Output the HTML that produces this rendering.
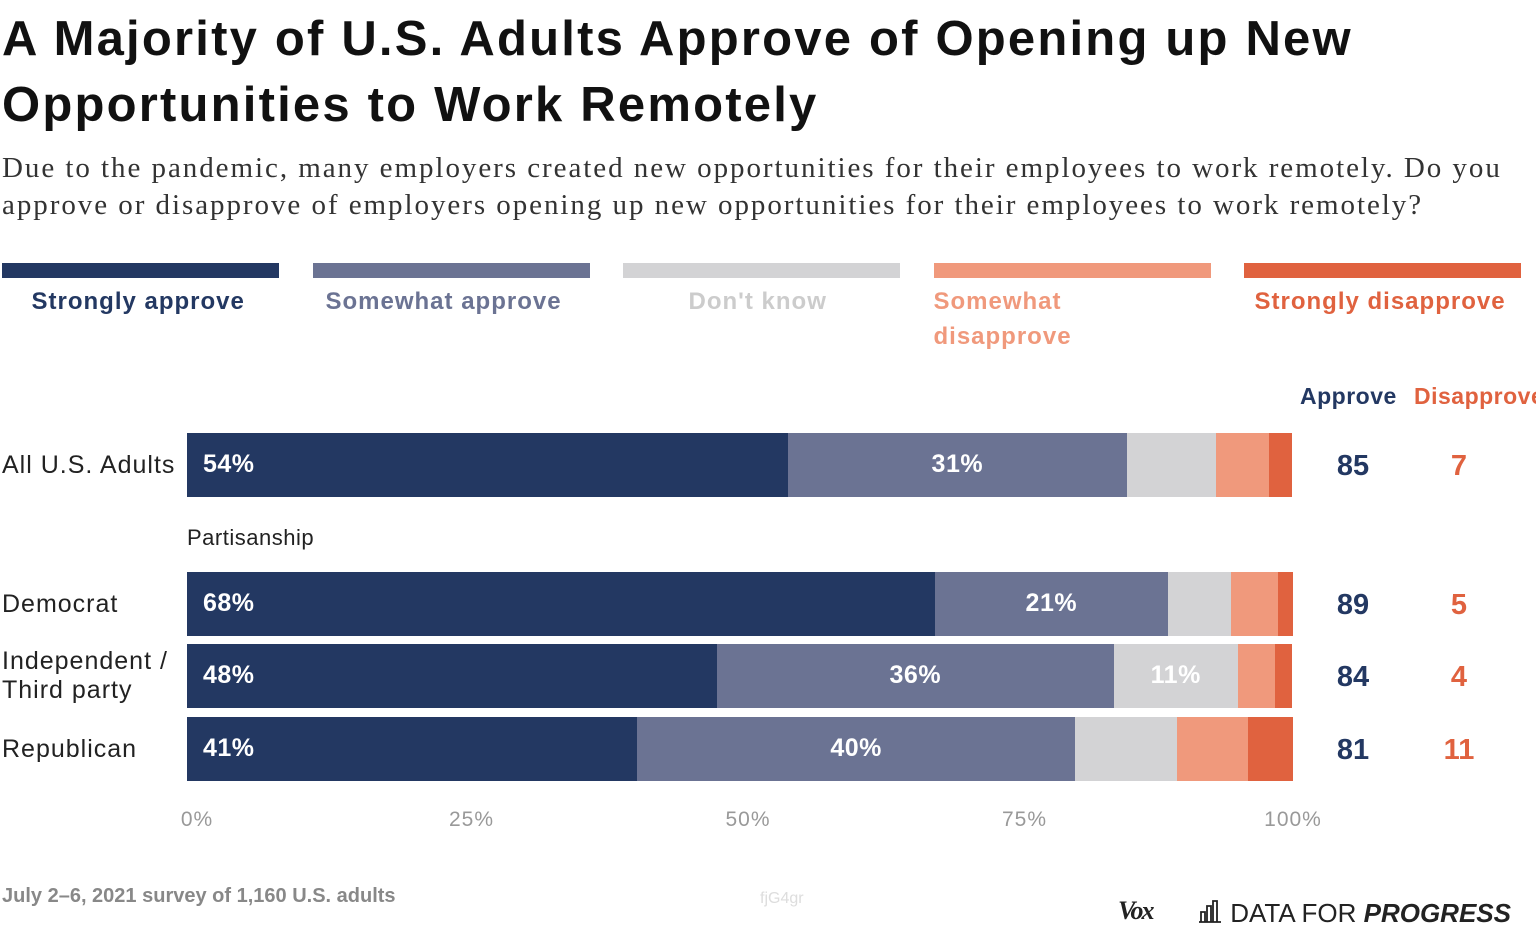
<!DOCTYPE html>
<html><head><meta charset="utf-8"><style>
body{margin:0;width:1536px;height:944px;background:#fff;overflow:hidden;font-family:"Liberation Sans",sans-serif;position:relative}
.abs{position:absolute;white-space:nowrap}
h1{position:absolute;left:2px;top:6px;margin:0;font-size:49px;line-height:66px;font-weight:bold;color:#111;letter-spacing:2.2px;white-space:nowrap}
.sub{left:2px;top:150px;font-family:"Liberation Serif",serif;font-size:29px;line-height:37px;color:#333;white-space:normal;width:1530px;letter-spacing:1.95px}
.lg{height:15px;top:263px;width:277px}
.lt{top:284px;font-size:24px;font-weight:bold;line-height:35px;letter-spacing:1px}
.cat{left:2px;font-size:25px;color:#222;line-height:29px;letter-spacing:1px}
.tick{top:808px;font-size:21px;color:#999;transform:translateX(-50%);letter-spacing:1px}
.num{font-size:29px;font-weight:bold;transform:translateX(-50%)}
</style></head><body>
<h1>A Majority of U.S. Adults Approve of Opening up New<br>Opportunities to Work Remotely</h1>
<div class="abs sub">Due to the pandemic, many employers created new opportunities for their employees to work remotely. Do you approve or disapprove of employers opening up new opportunities for their employees to work remotely?</div>
<div id="legend"></div>
<div class="abs" style="left:1300px;top:383px;font-size:23px;font-weight:bold;color:#233862;letter-spacing:0.5px">Approve</div>
<div class="abs" style="left:1414px;top:383px;font-size:23px;font-weight:bold;color:#e0623f;letter-spacing:0.5px">Disapprove</div>
<div class="abs" style="left:187px;top:525px;font-size:22px;color:#222;letter-spacing:0.5px">Partisanship</div>
<div id="chart"></div>
<div class="abs" style="left:2px;top:885px;font-size:20px;color:#888;font-weight:bold">July 2–6, 2021 survey of 1,160 U.S. adults</div>
<div class="abs" style="left:760px;top:890px;font-size:16px;color:#ddd">fjG4gr</div>
<div class="abs" style="left:1118px;top:896px;font-size:26px;font-family:'Liberation Serif',serif;font-weight:bold;font-style:italic;color:#222;letter-spacing:-2px">Vox</div>
<div class="abs" style="left:1197px;top:898px;font-size:26px;color:#222"><svg width="26" height="26" style="vertical-align:-2px" viewBox="0 0 26 26"><path d="M2 24h22M4 24V14h4v10M10 24V8h4v16M16 24V3h4v21" stroke="#222" stroke-width="1.8" fill="none"/></svg> DATA FOR <b><i>PROGRESS</i></b></div>
<script>
const categories=["All U.S. Adults","Democrat","Independent / Third party","Republican"];
const seriesNames=["Strongly approve","Somewhat approve","Don't know","Somewhat disapprove","Strongly disapprove"];
const strongApprove=[54.3,67.6,47.9,40.7];
const someApprove=[30.7,21.1,35.9,39.6];
const dontKnow=[8.0,5.7,11.2,9.2];
const someDisapprove=[4.8,4.2,3.4,6.4];
const strongDisapprove=[2.1,1.4,1.5,4.1];
const approveTotals=[85,89,84,81];
const disapproveTotals=[7,5,4,11];
const ticks=[0,25,50,75,100];
const colors=["#233862","#6b7393","#d3d3d5","#f0997c","#e0623f"];
const x0=187,x1=1293;
const xs=v=>x0+(x1-x0)*v/100;
const rowTop=[433,572,644,717],barH=64;
const lg=document.getElementById('legend');
seriesNames.forEach((n,i)=>{
 const l=i*310.5+2;
 const b=document.createElement('div');b.className='abs lg';b.style.left=l+'px';b.style.background=colors[i];
 
 
 lg.appendChild(b);
 const t=document.createElement('div');t.className='abs lt';t.style.color=i==2?'#ccc':colors[i];
 t.style.left=(i==3?l:l+(277-[218,251,146,0,256][i])/2)+'px';
 t.innerHTML=i==3?'Somewhat<br>disapprove':n;
 
 
 lg.appendChild(t);
});
const ch=document.getElementById('chart');
const series=[strongApprove,someApprove,dontKnow,someDisapprove,strongDisapprove];
categories.forEach((c,r)=>{
 const y=rowTop[r];
 const cl=document.createElement('div');cl.className='abs cat';
 if(r==2){cl.innerHTML='Independent /<br>Third party';cl.style.top=(y+3)+'px';}else{cl.textContent=c;cl.style.top=(y+18)+'px';}
 
 
 ch.appendChild(cl);
 let cum=0;
 series.forEach((s,i)=>{
  const v=s[r];const a=xs(cum),b=xs(cum+v);cum+=v;
  const d=document.createElement('div');d.className='abs';
  d.style.cssText=`left:${a}px;top:${y}px;width:${b-a}px;height:${barH}px;background:${colors[i]}`;
  
  
  if(v>=10){const t=document.createElement('div');t.className='abs';t.textContent=Math.round(v)+'%';
   t.style.cssText=`top:17px;font-size:25px;font-weight:bold;color:#fff;letter-spacing:0.5px;`+(i==0?'left:16px':'left:50%;transform:translateX(-50%)');
   
   
   d.appendChild(t);}
  ch.appendChild(d);
 });
 const ap=document.createElement('div');ap.className='abs num';ap.textContent=approveTotals[r];
 ap.style.cssText+=`left:1353px;top:${y+17}px;color:#233862`;
 
 
 ch.appendChild(ap);
 const dp=document.createElement('div');dp.className='abs num';dp.textContent=disapproveTotals[r];
 dp.style.cssText+=`left:1459px;top:${y+17}px;color:#e0623f`;
 
 
 ch.appendChild(dp);
});
ticks.forEach(t=>{
 const d=document.createElement('div');d.className='abs tick';d.textContent=t+'%';
 d.style.left=(xs(t)+(t==0?10:t==100?0:8))+'px';
 
 
 ch.appendChild(d);
});
</script>
</body></html>
